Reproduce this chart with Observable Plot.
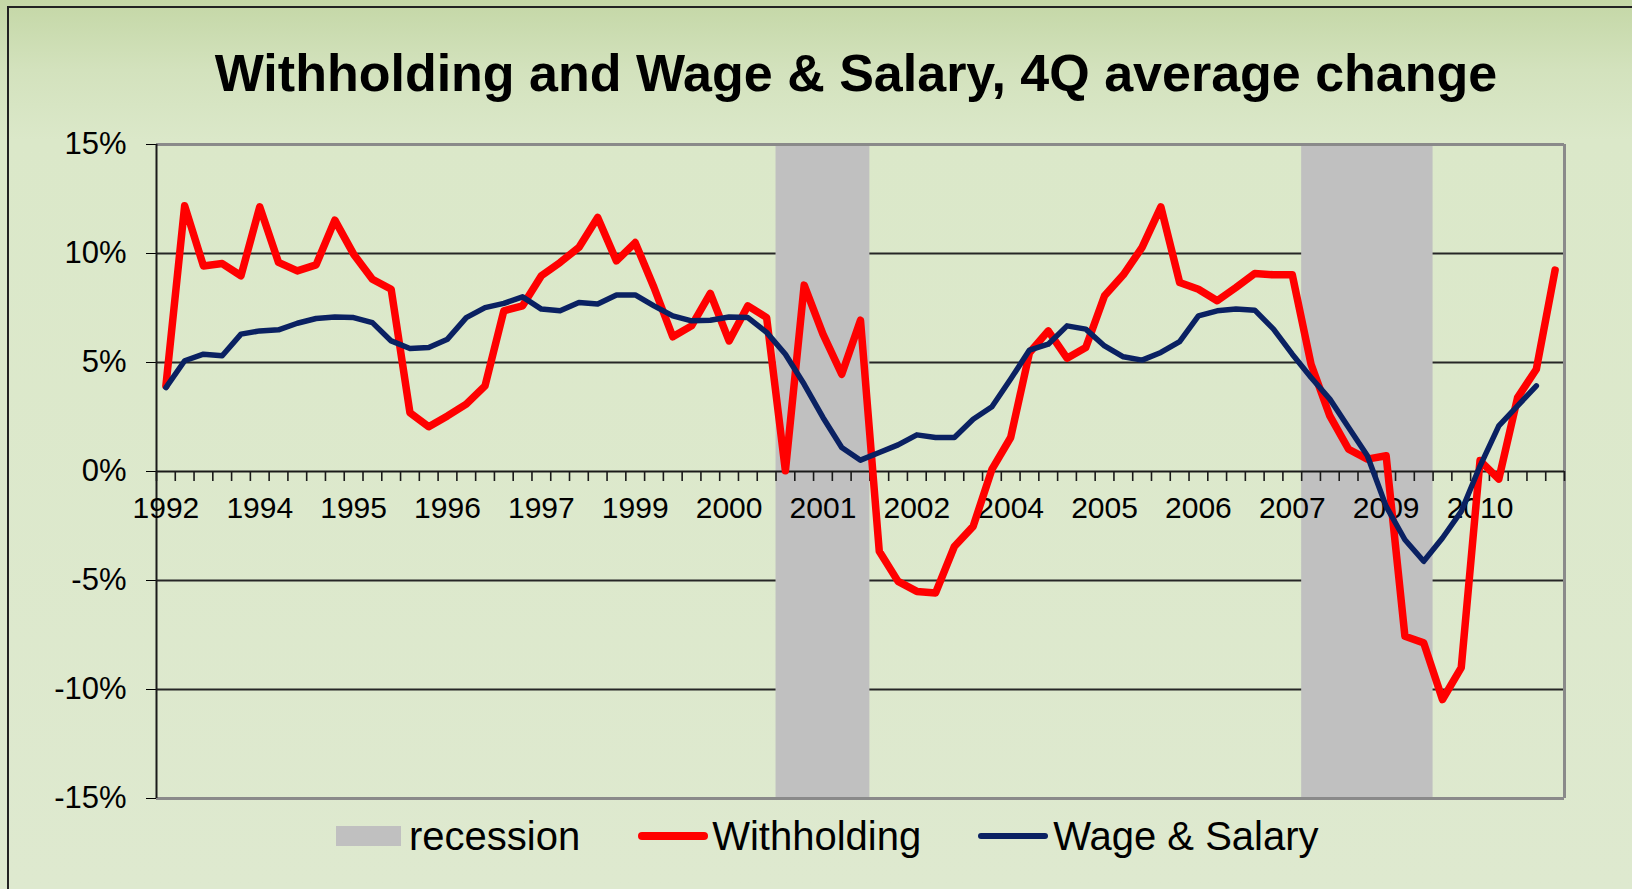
<!DOCTYPE html>
<html>
<head>
<meta charset="utf-8">
<script src="https://cdn.jsdelivr.net/npm/d3@7"></script>
<script src="https://cdn.jsdelivr.net/npm/@observablehq/plot@0.6"></script>
<style>
  html, body { margin: 0; padding: 0; width: 1632px; height: 889px; overflow: hidden; }
  body {
    position: relative;
    font-family: "Liberation Sans", Arial, sans-serif;
    background: linear-gradient(180deg, #c4d7a6 0px, #d3e2bd 70px, #dbe8c9 140px, #dee9cf 889px);
  }
  #frame { position: absolute; left: 7px; top: 6px; width: 1700px; height: 960px;
    border-top: 2px solid #222; border-left: 2px solid #222; box-sizing: border-box; }
  #title { position: absolute; left: 0; top: 47px; width: 1632px; padding-left: 80px; box-sizing: border-box;
    text-align: center; font-size: 52px; line-height: 52px; font-weight: bold; color: #000; }
  #chart { position: absolute; left: 0; top: 120px; }
  #legend { position: absolute; left: 336px; top: 816px; height: 40px; display: flex; align-items: center;
    font-size: 40px; line-height: 40px; color: #000; white-space: nowrap; }
  .sw { display: inline-block; }
</style>
</head>
<body>
<div id="frame"></div>
<div id="title">Withholding and Wage &amp; Salary, 4Q average change</div>
<div id="chart"></div>
<div id="legend">
  <span class="sw" style="width:65px;height:20px;background:#c0c0c0;margin-right:8px"></span>
  <span style="margin-right:58px">recession</span>
  <span class="sw" style="width:70px;height:8px;border-radius:4px;background:#ff0000;margin-right:4px"></span>
  <span style="margin-right:57px">Withholding</span>
  <span class="sw" style="width:70px;height:6px;border-radius:3px;background:#0a2162;margin-right:5px"></span>
  <span>Wage &amp; Salary</span>
</div>
<script>
// Quarterly categories
const quarters = [
  "1992Q4",
  "1993Q1","1993Q2","1993Q3","1993Q4",
  "1994Q1","1994Q2","1994Q3","1994Q4",
  "1995Q1","1995Q2","1995Q3","1995Q4",
  "1996Q1","1996Q2","1996Q3","1996Q4",
  "1997Q1","1997Q2","1997Q3","1997Q4",
  "1998Q1","1998Q2","1998Q3","1998Q4",
  "1999Q1","1999Q2","1999Q3","1999Q4",
  "2000Q1","2000Q2","2000Q3","2000Q4",
  "2001Q1","2001Q2","2001Q3","2001Q4",
  "2002Q1","2002Q2","2002Q3","2002Q4",
  "2003Q1","2003Q2","2003Q3","2003Q4",
  "2004Q1","2004Q2","2004Q3","2004Q4",
  "2005Q1","2005Q2","2005Q3","2005Q4",
  "2006Q1","2006Q2","2006Q3","2006Q4",
  "2007Q1","2007Q2","2007Q3","2007Q4",
  "2008Q1","2008Q2","2008Q3","2008Q4",
  "2009Q1","2009Q2","2009Q3","2009Q4",
  "2010Q1","2010Q2","2010Q3","2010Q4",
  "2011Q1","2011Q2"
];

// Withholding, 4Q average change (%)
const withholding = [
  3.93, 12.19, 9.43, 9.54, 8.98, 12.14, 9.59, 9.2, 9.48, 11.53,
  9.97, 8.82, 8.36, 2.7, 2.05, 2.55, 3.09, 3.93, 7.37, 7.6,
  8.98, 9.59, 10.28, 11.65, 9.66, 10.5, 8.44, 6.18, 6.68, 8.17,
  5.99, 7.6, 7.06, 0.03, 8.55, 6.3, 4.46, 6.94, -3.66, -5.04,
  -5.5, -5.57, -3.44, -2.52, 0.1, 1.56, 5.45, 6.45, 5.2, 5.69,
  8.06, 9.02, 10.28, 12.14, 8.67, 8.36, 7.83, 8.44, 9.08, 9.02,
  9.02, 4.92, 2.55, 1.02, 0.57, 0.72, -7.56, -7.86, -10.46, -9.0,
  0.5, -0.35, 3.39, 4.69, 9.24
];

// Wage & Salary, 4Q average change (%)
const wageSalary = [
  3.85, 5.08, 5.38, 5.31, 6.3, 6.45, 6.5, 6.8, 7.02, 7.09,
  7.06, 6.83, 5.99, 5.64, 5.69, 6.07, 7.06, 7.52, 7.71, 8.01,
  7.45, 7.37, 7.75, 7.68, 8.1, 8.1, 7.6, 7.14, 6.91, 6.94,
  7.09, 7.06, 6.38, 5.38, 4.0, 2.48, 1.1, 0.52, 0.87, 1.22,
  1.68, 1.56, 1.56, 2.4, 2.97, 4.24, 5.57, 5.84, 6.68, 6.53,
  5.76, 5.26, 5.11, 5.46, 5.96, 7.14, 7.37, 7.45, 7.4, 6.53,
  5.38, 4.31, 3.32, 2.02, 0.72, -1.6, -3.13, -4.12, -3.05, -1.83,
  0.25, 2.09, 3.01, 3.93
];

// Recession periods (first and last shaded quarter)
const recessionStart = ["2001Q1", "2008Q1"];
const recessionEnd   = ["2002Q1", "2009Q3"];

// X tick labels (every fifth quarter)
const xTickQuarters = ["1992Q4","1994Q1","1995Q2","1996Q3","1997Q4","1999Q1","2000Q2","2001Q3","2002Q4","2004Q1","2005Q2","2006Q3","2007Q4","2009Q1","2010Q2"];
const xTickLabels   = ["1992","1994","1995","1996","1997","1999","2000","2001","2002","2004","2005","2006","2007","2009","2010"];

// Y ticks
const yTicks = [-15, -10, -5, 0, 5, 10, 15];
const yGrid = [-10, -5, 5, 10];

const idx = q => quarters.indexOf(q);
const wRows = withholding.map((v, i) => ({i, q: quarters[i], v}));
const sRows = wageSalary.map((v, i) => ({i, q: quarters[i], v}));
const recRows = recessionStart.map((s, k) => ({x1: idx(s), x2: idx(recessionEnd[k]) + 1}));
const tickRows = xTickQuarters.map((q, k) => ({i: idx(q), label: xTickLabels[k]}));
const boundaries = d3.range(quarters.length + 1);

const chart = Plot.plot({
  width: 1632,
  height: 688,
  marginLeft: 156,
  marginRight: 68,
  marginTop: 24,
  marginBottom: 10,
  style: {background: "transparent", fontFamily: "'Liberation Sans', Arial, sans-serif", fontSize: "31px", color: "#000", overflow: "visible"},
  x: {type: "linear", domain: [0, quarters.length], axis: null},
  y: {domain: [-15, 15], ticks: yTicks, tickFormat: d => d + "%", tickSize: 10, tickPadding: 20, label: null},
  marks: [
    Plot.ruleY(yGrid, {stroke: "#262626", strokeWidth: 2}),
    Plot.rect(recRows, {x1: "x1", x2: "x2", fill: "#c0c0c0"}),
    Plot.ruleY([15, -15], {stroke: "#8a8a8a", strokeWidth: 3}),
    Plot.ruleX([quarters.length], {stroke: "#8a8a8a", strokeWidth: 3}),
    Plot.ruleY([0], {stroke: "#1a1a1a", strokeWidth: 2}),
    Plot.ruleX(boundaries, {x: d => d, y1: 0, y2: 0, insetBottom: -10, stroke: "#1a1a1a", strokeWidth: 1.6}),
    Plot.ruleX([0], {stroke: "#1a1a1a", strokeWidth: 2}),
    Plot.text(tickRows, {x: d => d.i + 0.5, y: 0, text: "label", lineAnchor: "top", dy: 25, fontSize: 30, fill: "#000"}),
    Plot.line(wRows, {x: d => d.i + 0.5, y: "v", stroke: "#ff0000", strokeWidth: 7.5, strokeLinejoin: "round", strokeLinecap: "round"}),
    Plot.line(sRows, {x: d => d.i + 0.5, y: "v", stroke: "#0a2162", strokeWidth: 5.5, strokeLinejoin: "round", strokeLinecap: "round"})
  ]
});
document.getElementById("chart").appendChild(chart);
</script>
</body>
</html>
